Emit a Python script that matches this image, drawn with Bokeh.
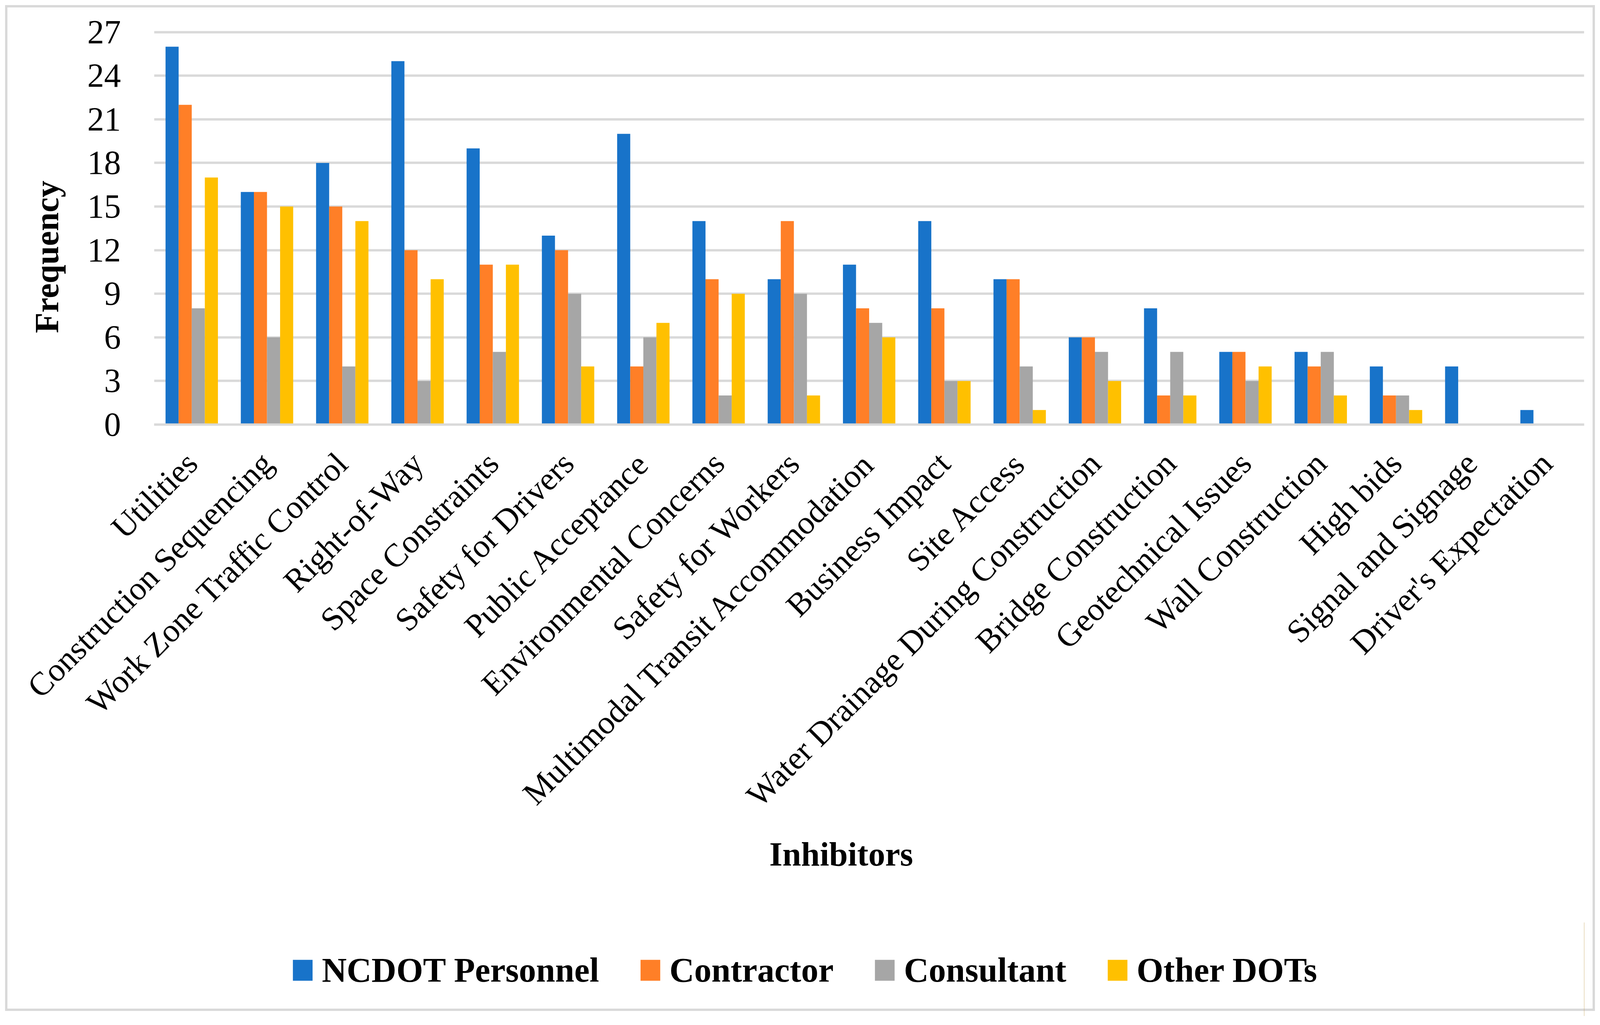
from bokeh.plotting import figure
from bokeh.layouts import column
from bokeh.models import (FactorRange, Range1d, FixedTicker, Legend, LegendItem,
                          ColumnDataSource, Title)
from bokeh.transform import dodge
from bokeh.embed import file_html
from bokeh.resources import INLINE

# ---------------- data ----------------
categories = [
    "Utilities", "Construction Sequencing", "Work Zone Traffic Control",
    "Right-of-Way", "Space Constraints", "Safety for Drivers",
    "Public Acceptance", "Environmental Concerns", "Safety for Workers",
    "Multimodal Transit Accommodation", "Business Impact", "Site Access",
    "Water Drainage During Construction", "Bridge Construction",
    "Geotechnical Issues", "Wall Construction", "High bids",
    "Signal and Signage", "Driver's Expectation",
]
ncdot_personnel = [26, 16, 18, 25, 19, 13, 20, 14, 10, 11, 14, 10, 6, 8, 5, 5, 4, 4, 1]
contractor      = [22, 16, 15, 12, 11, 12, 4, 10, 14, 8, 8, 10, 6, 2, 5, 4, 2, 0, 0]
consultant      = [8, 6, 4, 3, 5, 9, 6, 2, 9, 7, 3, 4, 5, 5, 3, 5, 2, 0, 0]
other_dots      = [17, 15, 14, 10, 11, 4, 7, 9, 2, 6, 3, 1, 3, 2, 4, 2, 1, 0, 0]
series_labels = ["NCDOT Personnel", "Contractor", "Consultant", "Other DOTs"]
y_ticks = [0, 3, 6, 9, 12, 15, 18, 21, 24, 27]
y_title = "Frequency"
x_title = "Inhibitors"

# ---------------- style ----------------
colors = ["#1873C9", "#FF7F27", "#A6A6A6", "#FFC000"]
FONT = "Liberation Serif"
GRID = "#d9d9d9"

src = ColumnDataSource(dict(cat=categories, s0=ncdot_personnel, s1=contractor,
                            s2=consultant, s3=other_dots))

W = 4096
H_MAIN, H_LEG = 2360, 240
p = figure(
    x_range=FactorRange(*categories, range_padding=0),
    y_range=Range1d(0, 27.1),
    width=W, height=H_MAIN,
    output_backend="svg", toolbar_location=None,
    min_border_left=394, min_border_right=41,
    min_border_top=78, min_border_bottom=H_MAIN - 1086,
)
p.outline_line_color = None
p.background_fill_color = "white"
p.border_fill_alpha = 0

bar_w = 0.174
offsets = [-1.5 * bar_w, -0.5 * bar_w, 0.5 * bar_w, 1.5 * bar_w]
for i, (off, c) in enumerate(zip(offsets, colors)):
    p.vbar(x=dodge("cat", off, range=p.x_range), top="s%d" % i, width=bar_w,
           source=src, fill_color=c, line_color=None)

# grid
p.xgrid.grid_line_color = None
p.ygrid.grid_line_color = GRID
p.ygrid.grid_line_width = 6

# y axis
p.yaxis.ticker = FixedTicker(ticks=y_ticks)
p.yaxis.axis_line_color = None
p.yaxis.major_tick_line_color = None
p.yaxis.minor_tick_line_color = None
p.yaxis.major_tick_out = 0
p.yaxis.major_tick_in = 0
p.yaxis.major_label_standoff = 85
p.yaxis.major_label_text_font = FONT
p.yaxis.major_label_text_font_size = "86px"
p.yaxis.major_label_text_color = "black"

# x axis
p.xaxis.axis_line_color = GRID
p.xaxis.axis_line_width = 6
p.xaxis.major_tick_line_color = None
p.xaxis.minor_tick_line_color = None
p.xaxis.major_tick_out = 0
p.xaxis.major_tick_in = 0
p.xaxis.major_label_orientation = 0.785398
p.xaxis.major_label_standoff = 85
p.xaxis.major_label_text_font = FONT
p.xaxis.major_label_text_font_size = "84px"
p.xaxis.major_label_text_color = "black"

# axis titles (as Titles so they can be offset like the original)
ty = Title(text=y_title, align="left", offset=234, vertical_align="middle",
           standoff=104, text_font=FONT, text_font_style="bold",
           text_font_size="86px", text_color="black")
p.add_layout(ty, "left")
tx = Title(text=x_title, align="left", offset=1575, vertical_align="top",
           standoff=40, text_font=FONT, text_font_style="bold",
           text_font_size="86px", text_color="black")
p.add_layout(tx, "below")

# ---------------- legend strip ----------------
pl = figure(width=W, height=H_LEG, output_backend="svg", toolbar_location=None,
            x_range=Range1d(0, 1), y_range=Range1d(0, 1),
            x_axis_type=None, y_axis_type=None,
            min_border_left=0, min_border_right=0, min_border_top=0, min_border_bottom=0)
pl.outline_line_color = None
pl.background_fill_alpha = 0
pl.border_fill_alpha = 0
pl.xgrid.grid_line_color = None
pl.ygrid.grid_line_color = None

# swatch renderers for the legend only (their single bar lies outside the view)
leg_renderers = [pl.vbar(x=[5], top=[5], width=0.1, fill_color=c, line_color=None)
                 for c in colors]
legend = Legend(
    items=[LegendItem(label=lab, renderers=[r]) for lab, r in zip(series_labels, leg_renderers)],
    orientation="horizontal",
    location=(349, 67),
    glyph_width=63, glyph_height=67,
    label_standoff=18, spacing=99,
    padding=0, margin=0,
    border_line_color=None, background_fill_alpha=0,
    label_text_font=FONT, label_text_font_style="bold",
    label_text_font_size="88px", label_text_color="black",
)
pl.add_layout(legend)

layout = column(p, pl, spacing=0)
layout.styles = {"box-shadow": "inset 0 0 0 13px white, inset 0 0 0 19px #d9d9d9",
                 "outline": "6px solid #d9d9d9", "outline-offset": "-19px",
                 "background-color": "white"}

open("out.html", "w").write(file_html(layout, INLINE))
